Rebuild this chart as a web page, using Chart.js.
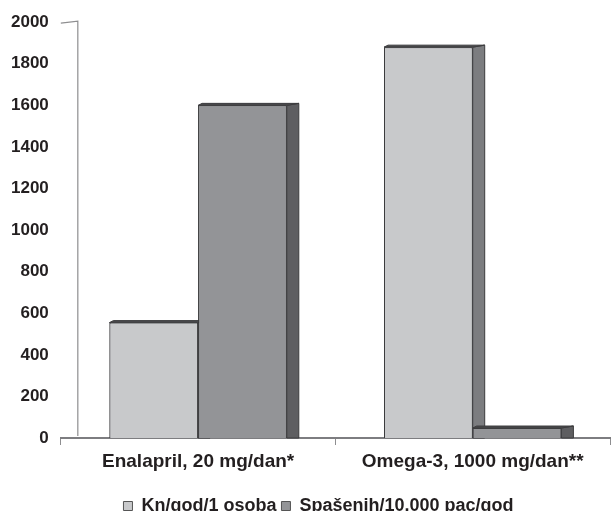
<!DOCTYPE html>
<html>
<head>
<meta charset="utf-8">
<script src="https://cdn.jsdelivr.net/npm/chart.js@4.4.1/dist/chart.umd.min.js"></script>
<style>
  html, body { margin: 0; padding: 0; background: #ffffff; }
  #wrap { width: 614px; height: 511px; }
</style>
</head>
<body>
<div id="wrap"><canvas id="c" width="614" height="511"></canvas></div>
<script>
// Categories and series
const categories = ['Enalapril, 20 mg/dan*', 'Omega-3, 1000 mg/dan**'];
const costPerPerson = [555, 1880];       // Kn/god/1 osoba
const savedPer10000 = [1600, 48];        // Spašenih/10.000 pac/god
const seriesNames = ['Kn/god/1 osoba', 'Spašenih/10.000 pac/god'];
const yTicks = [0, 200, 400, 600, 800, 1000, 1200, 1400, 1600, 1800, 2000];

const FRONT = ['#c8c9cb', '#939497'];
const SIDE = ['#7c7d80', '#5e5e61'];
const EDGE = '#3c3c3e';
const TEXT = '#231f20';
const DEPTH = 12, RISE = 2;

// Extruded look: side and top faces drawn from each bar element's geometry,
// series in order so later bars overlap earlier side faces.
const bar3d = {
  id: 'bar3d',
  afterDatasetsDraw(chart) {
    const ctx = chart.ctx;
    chart.data.datasets.forEach((ds, i) => {
      const meta = chart.getDatasetMeta(i);
      meta.data.forEach(el => {
        el.draw(ctx);
        const p = el.getProps(['x', 'y', 'base', 'width'], true);
        const l = p.x - p.width / 2, r = p.x + p.width / 2;
        ctx.save();
        ctx.lineWidth = 1;
        ctx.strokeStyle = EDGE;
        // side face
        ctx.beginPath();
        ctx.moveTo(r, p.y);
        ctx.lineTo(r + DEPTH, p.y - RISE);
        ctx.lineTo(r + DEPTH, p.base);
        ctx.lineTo(r, p.base);
        ctx.closePath();
        ctx.fillStyle = SIDE[i];
        ctx.fill();
        ctx.stroke();
        // top face
        ctx.beginPath();
        ctx.moveTo(l, p.y);
        ctx.lineTo(l + 4, p.y - RISE);
        ctx.lineTo(r + DEPTH, p.y - RISE);
        ctx.lineTo(r, p.y);
        ctx.closePath();
        ctx.fillStyle = '#4a4a4c';
        ctx.fill();
        ctx.stroke();
        ctx.restore();
      });
    });
  }
};

// Back wall edge behind the value axis
const wall = {
  id: 'wall',
  beforeDatasetsDraw(chart) {
    const { ctx, chartArea: a } = chart;
    ctx.save();
    ctx.strokeStyle = '#8e8e90';
    ctx.lineWidth = 1.2;
    ctx.beginPath();
    ctx.moveTo(a.left, a.top + 1);
    ctx.lineTo(a.left + 17, a.top - 1);
    ctx.lineTo(a.left + 17, a.bottom - 2);
    ctx.stroke();
    ctx.restore();
  }
};

// Nudge the legend row so it sits centred under the plot rather than the canvas
const legendShift = {
  id: 'legendShift',
  afterLayout(chart) {
    if (chart.legend) {
      chart.legend.left += 14;
      chart.legend.right += 14;
    }
  }
};

new Chart(document.getElementById('c'), {
  type: 'bar',
  data: {
    labels: categories,
    datasets: [
      { label: seriesNames[0], data: costPerPerson, backgroundColor: FRONT[0], borderColor: EDGE, borderWidth: 1 },
      { label: seriesNames[1], data: savedPer10000, backgroundColor: FRONT[1], borderColor: EDGE, borderWidth: 1 }
    ]
  },
  options: {
    responsive: false,
    animation: false,
    devicePixelRatio: 1,
    layout: { padding: { left: -1, right: 4, top: 4, bottom: -14 } },
    datasets: { bar: { categoryPercentage: 0.646, barPercentage: 1.0 } },
    plugins: {
      tooltip: { enabled: false },
      legend: {
        position: 'bottom',
        labels: {
          color: TEXT,
          font: { family: 'Liberation Sans', size: 18, weight: 'bold' },
          boxWidth: 9,
          boxHeight: 9,
          padding: 5,
          generateLabels(chart) {
            return chart.data.datasets.map((ds, i) => ({
              text: ds.label,
              fillStyle: FRONT[i],
              strokeStyle: '#555',
              lineWidth: 1,
              fontColor: TEXT,
              datasetIndex: i
            }));
          }
        }
      }
    },
    scales: {
      x: {
        afterFit(scale) { scale.height = 54; },
        grid: { display: true, drawOnChartArea: false, offset: true, tickLength: 7, color: '#8e8e90' },
        border: { display: true, color: '#7d7d80', width: 2 },
        ticks: { color: TEXT, padding: 5, font: { family: 'Liberation Sans', size: 19, weight: 'bold' } }
      },
      y: {
        min: 0,
        max: 2000,
        afterBuildTicks(scale) { scale.ticks = yTicks.map(v => ({ value: v })); },
        grid: { display: false, drawTicks: false },
        border: { display: false },
        ticks: {
          color: TEXT,
          padding: 12,
          font: { family: 'Liberation Sans', size: 17, weight: 'bold' },
          callback: v => String(v)
        }
      }
    }
  },
  plugins: [wall, bar3d, legendShift]
});
</script>
</body>
</html>
